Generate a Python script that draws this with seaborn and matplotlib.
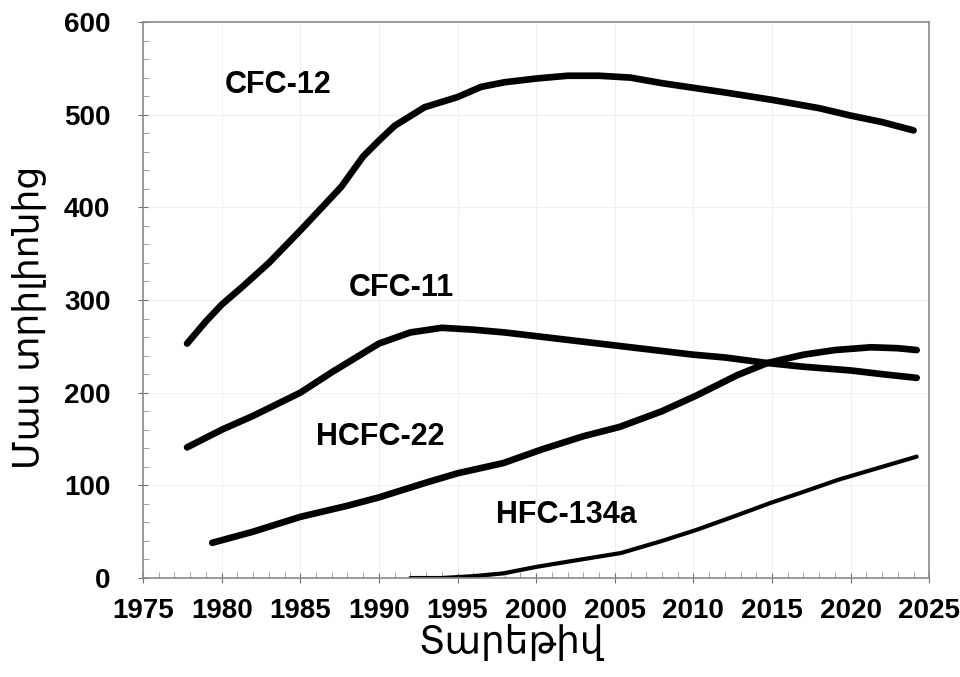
import matplotlib
matplotlib.use("Agg")
import matplotlib.pyplot as plt
from matplotlib.ticker import MultipleLocator
import pandas as pd
import seaborn as sns

# values (parts per trillion)
cfc12_years = [1977.8, 1979, 1980, 1981.3, 1983, 1985, 1987.6, 1989, 1990, 1991, 1992.9, 1995,
               1996.5, 1998, 2000, 2002, 2004, 2006, 2008, 2010, 2012, 2015, 2018, 2020, 2022, 2024]
cfc12_vals = [253, 277, 295, 314, 340, 375, 422, 455, 472, 488, 508, 519,
              530, 535, 539, 542, 542, 540, 534, 529, 524, 516, 507, 499, 492, 483]

cfc11_years = [1977.8, 1980, 1982, 1985, 1987, 1990, 1992, 1994, 1996, 1998, 2000, 2002,
               2005, 2008, 2010, 2012, 2014.7, 2017, 2020, 2022, 2024.2]
cfc11_vals = [141, 160, 175, 200, 222, 253, 265, 270, 268, 265, 261, 257,
              251, 245, 241, 238, 232, 228, 224, 220, 216]

hcfc22_years = [1979.4, 1982, 1985, 1988, 1990, 1993.2, 1995, 1997.9, 2000.4, 2003, 2005.3,
                2008, 2010.2, 2012.8, 2014.7, 2017, 2019, 2021.3, 2023, 2024.2]
hcfc22_vals = [38, 50, 66, 78, 87, 104, 113, 124, 139, 153, 163,
               180, 197, 219, 232, 241, 246, 249, 248, 246]

hfc134a_years = [1992, 1994, 1996, 1997.9, 2000, 2002.5, 2005.4, 2008, 2010.2, 2012.5,
                 2014.9, 2017, 2019.2, 2022, 2024.2]
hfc134a_vals = [0, 0, 2, 5, 12, 19, 27, 40, 52, 66, 81, 93, 106, 120, 131]

series = [
    ("CFC-12", cfc12_years, cfc12_vals, 4.8, (1983.6, 532)),
    ("CFC-11", cfc11_years, cfc11_vals, 4.8, (1991.4, 313)),
    ("HCFC-22", hcfc22_years, hcfc22_vals, 4.8, (1990.1, 152)),
    ("HFC-134a", hfc134a_years, hfc134a_vals, 3.0, (2001.9, 68)),
]

sns.set_theme(style="white")
plt.rcParams['font.family'] = ['Liberation Sans', 'DejaVu Sans']
plt.rcParams['text.color'] = 'black'
plt.rcParams['axes.labelcolor'] = 'black'
plt.rcParams['xtick.labelcolor'] = 'black'
plt.rcParams['ytick.labelcolor'] = 'black'

fig = plt.figure(figsize=(9.6, 6.77), dpi=100)
ax = fig.add_axes([0.149, 0.1462, 0.819, 0.8213])

for name, xs, ys, lw, (tx, ty) in series:
    df = pd.DataFrame({"year": xs, "ppt": ys})
    sns.lineplot(data=df, x="year", y="ppt", ax=ax, color="black", linewidth=lw,
                 solid_capstyle="round", solid_joinstyle="round")
    ax.text(tx, ty, name, ha="center", va="center", fontsize=22, fontweight="bold")

ax.set_xlim(1975, 2025)
ax.set_ylim(0, 600)
ax.xaxis.set_major_locator(MultipleLocator(5))
ax.xaxis.set_minor_locator(MultipleLocator(1))
ax.yaxis.set_major_locator(MultipleLocator(100))
ax.yaxis.set_minor_locator(MultipleLocator(20))
ax.grid(True, which="major", color="#f0f0f0", linewidth=0.8)

for s in ax.spines.values():
    s.set_color("#8a8a8a")
    s.set_linewidth(1.2)

ax.tick_params(axis="both", which="major", direction="inout", length=7, width=0.8,
               color="#707070")
ax.tick_params(axis="both", which="minor", direction="in", length=4, width=0.6,
               color="#909090")
ax.tick_params(axis="y", which="both", left=True, right=False)
ax.tick_params(axis="x", which="both", bottom=True, top=False)
ax.tick_params(axis="y", which="major", pad=20)
ax.tick_params(axis="x", which="major", pad=11)
for lab in ax.get_yticklabels():
    lab.set_fontweight("bold")
    lab.set_fontsize(20)
for lab in ax.get_xticklabels():
    lab.set_fontweight("bold")
    lab.set_fontsize(20)
    lab.set_family(["Liberation Sans Narrow", "Liberation Sans"])

ax.set_xlabel("Տարեթիվ", fontsize=27, family=["DejaVu Sans"])
ax.set_ylabel("Մաս տրիլիոնից", fontsize=26, family=["DejaVu Sans"])
ax.xaxis.set_label_coords(0.468, -0.082)
ax.yaxis.set_label_coords(-0.124, 0.468)

fig.savefig("out.png", dpi=100)
